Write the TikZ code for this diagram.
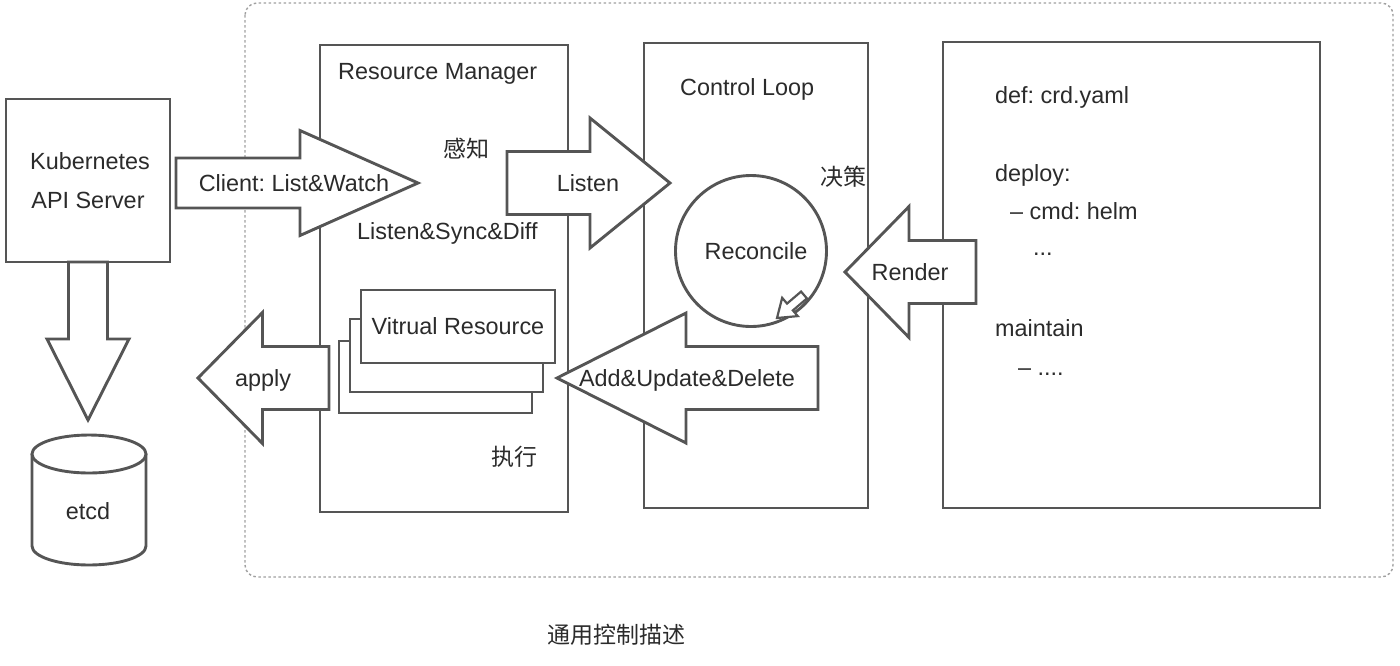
\documentclass[tikz,border=0pt]{standalone}
\usepackage{fontspec}
\setmainfont{Liberation Sans}
\newfontfamily\cjk{Noto Sans CJK SC}
\usetikzlibrary{calc}
\frenchspacing

\definecolor{linegray}{HTML}{555555}
\definecolor{textgray}{HTML}{2B2B2B}
\definecolor{bordergray}{HTML}{A0A0A0}

% hollow block arrow: [opts]{from}{to}{shaft half}{head half}{head length}
\newcommand\blockarrow[6][]{%
  \path ($(#3)!#6!(#2)$) coordinate (ba-base);
  \draw[blockarr,#1] ($(#2)!#4!90:(#3)$) -- ($(ba-base)!#4!90:(#3)$) -- ($(ba-base)!#5!90:(#3)$) -- (#3)
    -- ($(ba-base)!#5!-90:(#3)$) -- ($(ba-base)!#4!-90:(#3)$) -- ($(#2)!#4!-90:(#3)$) -- cycle;
}

\begin{document}
\begin{tikzpicture}[x=1pt,y=-1pt,font=\fontsize{23.4}{39}\selectfont,text=textgray,
  box/.style={draw=linegray,line width=2.9pt,fill=white,outer sep=0pt,inner sep=0pt},
  blockarr/.style={draw=linegray,line width=2.9pt,fill=white,line join=miter},
  txt/.style={inner sep=0pt,anchor=base},
  zh/.style={inner sep=0pt,anchor=base,font=\cjk\fontsize{23}{26}\selectfont}]
\useasboundingbox (0,0) rectangle (1400,665);
\draw[bordergray,line width=1.4pt,dash pattern=on 2.5pt off 2.5pt,rounded corners=12pt] (245,3) rectangle (1393,577);

% boxes
\node[box,align=center,minimum width=164pt,minimum height=163pt] (k8s) at (88,180.5) {\hspace{4pt}Kubernetes\\API Server};
\node[box,minimum width=248pt,minimum height=467pt] (resmgr) at (444,278.5) {};
\node[box,minimum width=224pt,minimum height=465pt] (ctrl) at (756,275.5) {};
\node[box,minimum width=377pt,minimum height=466pt] (crd) at (1131.5,275) {};

% stacked virtual resources
\node[box,minimum width=193pt,minimum height=72pt] (vres3) at (435.5,377) {};
\node[box,minimum width=193pt,minimum height=73pt] (vres2) at (446.5,355.5) {};
\node[box,minimum width=194pt,minimum height=73pt,text height=16.8pt,text depth=0pt] (vres1) at (458,326.5) {Vitrual Resource};

% reconcile loop
\node[box,circle,minimum size=151pt,text height=16.8pt,text depth=0pt] (recon) at (751,251) {\hspace{10pt}Reconcile};
\coordinate (loop-s) at (804,295);
\coordinate (loop-t) at (777,318);
\blockarrow[line width=2.2pt]{loop-s}{loop-t}{4.5pt}{12pt}{17pt}

% etcd
\draw[blockarr] (32,454) -- (32,546) arc[start angle=180,end angle=360,x radius=57pt,y radius=19pt] -- (146,454);
\draw[blockarr] (89,454) ellipse[x radius=57pt,y radius=19pt];
\node[txt] (etcd) at (88,519) {etcd};

% block arrows
\coordinate (store-t) at (88,420);
\blockarrow{k8s.south}{store-t}{19.5pt}{41pt}{81pt}
\coordinate (cw-s) at (176,183);
\coordinate (cw-t) at (418,183);
\blockarrow{cw-s}{cw-t}{25pt}{52.5pt}{118pt}
\coordinate (listen-s) at (507,183);
\coordinate (listen-t) at (670,183);
\blockarrow{listen-s}{listen-t}{31.5pt}{65pt}{80pt}
\coordinate (render-s) at (976,272);
\coordinate (render-t) at (845,272);
\blockarrow{render-s}{render-t}{31.5pt}{65.5pt}{64pt}
\coordinate (aud-s) at (818,378);
\coordinate (aud-t) at (557,378);
\blockarrow{aud-s}{aud-t}{31.5pt}{65pt}{129pt}
\coordinate (apply-s) at (329,378);
\coordinate (apply-t) at (198,378);
\blockarrow{apply-s}{apply-t}{31.5pt}{65.5pt}{64.5pt}

% arrow texts
\node[txt] (cw-lbl) at (294,191) {Client: List\&Watch};
\node[txt] (listen-lbl) at (588,191) {Listen};
\node[txt] (render-lbl) at (910,280) {Render};
\node[txt] (aud-lbl) at (687,386) {Add\&Update\&Delete};
\node[txt] (apply-lbl) at (263,386) {apply};

% box texts
\node[txt,anchor=base west] (resmgr-lbl) at (338,79) {Resource Manager};
\node[txt,anchor=base west] (sync-lbl) at (357,239) {Listen\&Sync\&Diff};
\node[txt,anchor=base west] (ctrl-lbl) at (680,95) {Control Loop};
\node[zh] (sense) at (466,157.7) {感知};
\node[zh] (decide) at (843,185.7) {决策};
\node[zh] (exec) at (514,465.7) {执行};

% crd.yaml text
\node[txt,anchor=base west] (def) at (995,103) {def: crd.yaml};
\node[txt,anchor=base west] (deploy) at (995,181) {deploy:};
\node[txt,anchor=base west] (cmd) at (1010,219) {– cmd: helm};
\node[txt,anchor=base west] (cmd-more) at (1033,255) {...};
\node[txt,anchor=base west] (maintain) at (995,336) {maintain};
\node[txt,anchor=base west] (maintain-more) at (1018,375) {– ....};

\node[zh] (caption) at (616,643.7) {通用控制描述};
\end{tikzpicture}
\end{document}
